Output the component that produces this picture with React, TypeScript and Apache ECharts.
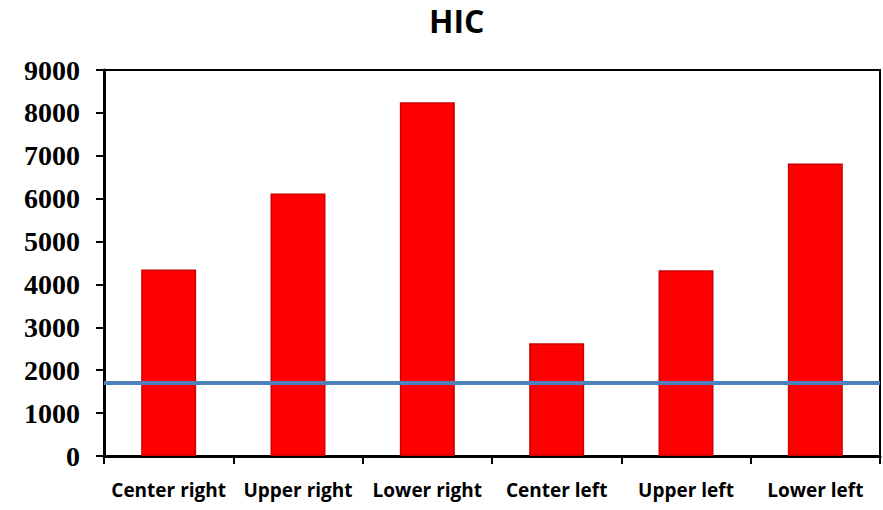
import React, { useEffect, useRef } from "react";
import * as echarts from "echarts";

const categories = ["Center right", "Upper right", "Lower right", "Center left", "Upper left", "Lower left"];
const hicValues = [4350, 6120, 8250, 2630, 4330, 6820];
const thresholdValue = 1700;
const yTicks = { min: 0, max: 9000, interval: 1000 };
const titleText = "HIC";

export default function App() {
  const ref = useRef<HTMLDivElement>(null);
  useEffect(() => {
    if (!ref.current) return;
    const chart = echarts.init(ref.current, null, { renderer: "svg" });
    chart.setOption({
      animation: false,
      backgroundColor: "#ffffff",
      title: {
        text: titleText,
        left: 429,
        top: 0,
        padding: 0,
        textStyle: { fontFamily: "Open Sans", fontWeight: "bold", fontSize: 32, color: "#000", lineHeight: 40 },
      },
      grid: {
        left: 104,
        right: 3,
        top: 70,
        bottom: 54,
        show: true,
        borderColor: "#000",
        borderWidth: 2,
        containLabel: false,
      },
      xAxis: {
        type: "category",
        data: categories,
        boundaryGap: true,
        axisLine: { show: true, lineStyle: { color: "#000", width: 3 } },
        axisTick: { show: true, inside: false, length: 8, alignWithLabel: false, lineStyle: { color: "#000", width: 2 } },
        axisLabel: { margin: 24, color: "#000", fontFamily: "Open Sans", fontWeight: "bold", fontSize: 19, interval: 0 },
        splitLine: { show: false },
      },
      yAxis: {
        type: "value",
        min: yTicks.min,
        max: yTicks.max,
        interval: yTicks.interval,
        axisLine: { show: true, lineStyle: { color: "#000", width: 3 } },
        axisTick: { show: true, inside: false, length: 8, lineStyle: { color: "#000", width: 2 } },
        axisLabel: {
          margin: 24,
          color: "#000",
          fontFamily: "Liberation Serif",
          fontWeight: "bold",
          fontSize: 28,
          formatter: (v: number) => String(v),
        },
        splitLine: { show: false },
      },
      series: [
        {
          type: "bar",
          data: hicValues,
          barWidth: "42.5%",
          itemStyle: { color: "#ff0000", borderColor: "#cc0000", borderWidth: 1.5 },
          markLine: {
            silent: true,
            symbol: ["none", "none"],
            label: { show: false },
            lineStyle: { color: "#4f81bd", width: 4, type: "solid" },
            data: [{ yAxis: thresholdValue }],
          },
        },
      ],
    });
    return () => chart.dispose();
  }, []);
  return <div ref={ref} style={{ position: "fixed", left: 0, top: 0, width: 883, height: 510 }} />;
}
